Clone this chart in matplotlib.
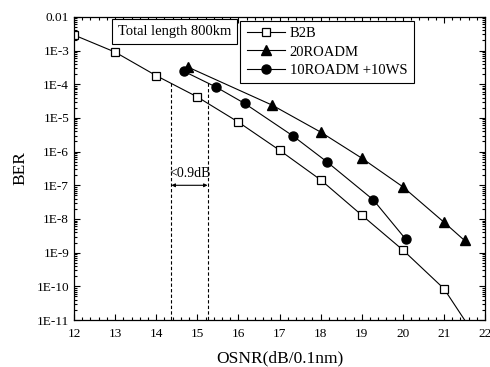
import matplotlib
matplotlib.use("Agg")
import matplotlib.pyplot as plt
from matplotlib.ticker import FixedLocator, MultipleLocator, LogLocator, NullFormatter

plt.rcParams['font.family'] = ['Liberation Serif', 'DejaVu Serif']
plt.rcParams['mathtext.fontset'] = 'stix'

# Data
b2b_x = [12, 13, 14, 15, 16, 17, 18, 19, 20, 21, 22]
b2b_y = [2.9e-3, 9e-4, 1.8e-4, 4.2e-5, 7.5e-6, 1.1e-6, 1.45e-7, 1.3e-8, 1.2e-9, 8.5e-11, 1.2e-12]

roadm20_x = [14.78, 16.82, 18.0, 19.0, 20.0, 21.0, 21.5]
roadm20_y = [3.2e-4, 2.4e-5, 3.8e-6, 6.4e-7, 9.0e-8, 8.0e-9, 2.3e-9]

mix_x = [14.68, 15.46, 16.15, 17.33, 18.15, 19.28, 20.07]
mix_y = [2.4e-4, 8.2e-5, 2.7e-5, 2.9e-6, 5.0e-7, 3.7e-8, 2.5e-9]

series_labels = ["B2B", "20ROADM", "10ROADM +10WS"]
ytick_vals = [1e-2, 1e-3, 1e-4, 1e-5, 1e-6, 1e-7, 1e-8, 1e-9, 1e-10, 1e-11]
ytick_labels = ["0.01", "1E-3", "1E-4", "1E-5", "1E-6", "1E-7", "1E-8", "1E-9", "1E-10", "1E-11"]
xtick_vals = [12, 13, 14, 15, 16, 17, 18, 19, 20, 21, 22]

gap_left = 14.37
gap_right = 15.25
gap_top = 1.1e-4
arrow_y = 1e-7

fig = plt.figure(figsize=(4.9, 3.67), dpi=100)
ax = fig.add_axes([0.151, 0.128, 0.839, 0.826])

ax.set_yscale('log')
ax.plot(b2b_x, b2b_y, color='black', lw=0.8, marker='s', ms=5.5,
        mfc='white', mec='black', mew=0.9, label=series_labels[0])
ax.plot(roadm20_x, roadm20_y, color='black', lw=0.8, marker='^', ms=7.5,
        mfc='black', mec='black', label=series_labels[1])
ax.plot(mix_x, mix_y, color='black', lw=0.8, marker='o', ms=6.5,
        mfc='black', mec='black', label=series_labels[2])

ax.set_xlim(12, 22)
ax.set_ylim(1e-11, 1e-2)

ax.yaxis.set_major_locator(FixedLocator(ytick_vals))
ax.set_yticklabels(ytick_labels)
ax.yaxis.set_minor_locator(LogLocator(base=10, subs=range(2, 10), numticks=20))
ax.yaxis.set_minor_formatter(NullFormatter())
ax.xaxis.set_major_locator(FixedLocator(xtick_vals))
ax.xaxis.set_minor_locator(MultipleLocator(0.2))

ax.tick_params(which='both', direction='in', top=True, right=True, labelsize=9.5, width=0.8)
ax.tick_params(which='major', length=4)
ax.tick_params(which='minor', length=2)
ax.tick_params(axis='x', which='major', pad=6)
for s in ax.spines.values():
    s.set_linewidth(0.9)

ax.set_xlabel("OSNR(dB/0.1nm)", fontsize=12.5, labelpad=7)
ax.set_ylabel("BER", fontsize=12.5, labelpad=6)

# dashed lines and arrow
ax.plot([gap_left, gap_left], [gap_top, 1e-11], color='black', lw=0.8, ls=(0, (3, 2)))
ax.plot([gap_right, gap_right], [gap_top, 1e-11], color='black', lw=0.8, ls=(0, (3, 2)))
ax.annotate("", xy=(gap_left, arrow_y), xytext=(gap_right, arrow_y),
            arrowprops=dict(arrowstyle='<|-|>', color='black', lw=0.8,
                            shrinkA=0, shrinkB=0, mutation_scale=5))
ax.text((gap_left + gap_right) / 2, 2.3e-7, "<0.9dB", ha='center', va='center', fontsize=10)

ax.text(0.245, 0.952, "Total length 800km", transform=ax.transAxes, ha='center', va='center',
        fontsize=10.5, bbox=dict(boxstyle='square,pad=0.4', fc='white', ec='black', lw=0.8))

leg = ax.legend(loc='upper left', bbox_to_anchor=(0.404, 0.988), fontsize=10.5,
                frameon=True, fancybox=False, edgecolor='black', framealpha=1,
                borderaxespad=0, handlelength=2.6, handletextpad=0.35,
                labelspacing=0.35, borderpad=0.45)
leg.get_frame().set_linewidth(0.8)

fig.savefig("out.png", dpi=100)
